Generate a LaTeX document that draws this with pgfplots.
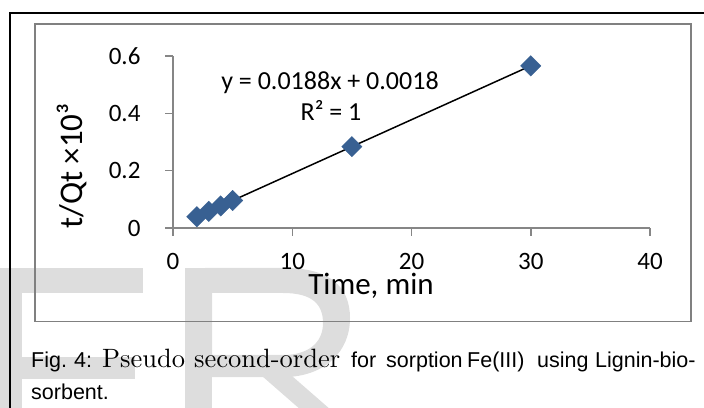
\documentclass[border=0pt]{standalone}
\usepackage{fontspec}
\setmainfont{Liberation Sans}
\newfontfamily\calibri{Carlito}
\newfontfamily\cmr{lmroman10-regular.otf}
\usepackage{pgfplots}
\pgfplotsset{compat=1.18}
\definecolor{ptblue}{RGB}{56,96,146}
\definecolor{axgray}{RGB}{134,134,134}
\definecolor{framegray}{RGB}{128,128,128}
\definecolor{wmgray}{RGB}{221,221,221}

\begin{document}
\begin{tikzpicture}[x=1pt,y=1pt]
\path[use as bounding box] (0,0) rectangle (704,407);
% watermark letters (E, R) behind everything
\begin{scope}
\clip (0,0) rectangle (704,407);
\fill[wmgray] (-5,139) rectangle (143,114);
\fill[wmgray] (-5,139) rectangle (22,-10);
\fill[wmgray] (-5,50) rectangle (135,28);
\fill[wmgray] (185,139) rectangle (212,-10);
\fill[wmgray, even odd rule]
    (205,139) -- (285,139) .. controls (330,139) and (350,120) .. (350,89)
    .. controls (350,55) and (325,32) .. (288,30) -- (205,30) -- cycle
    (212,114) -- (283,114) .. controls (312,114) and (323,103) .. (323,84)
    .. controls (323,64) and (308,52) .. (283,52) -- (212,52) -- cycle;
\fill[wmgray] (262,31) -- (292,31) -- (339,-10) -- (309,-10) -- cycle;
\end{scope}
\draw[line width=2pt] (10,-5) -- (10,394.3) -- (710,394.3);
\draw[framegray, line width=1.5pt] (35,85.5) rectangle (691,383);

\begin{axis}[
    at={(173pt,179pt)}, anchor=south west,
    scale only axis, width=477pt, height=172pt,
    xmin=0, xmax=40, ymin=0, ymax=0.6,
    xtick={0,10,20,30,40}, ytick={0,0.2,0.4,0.6},
    axis x line=bottom, axis y line=left,
    axis line style={-, axgray, line width=1.5pt},
    tick style={axgray, line width=1.5pt},
    tick align=outside, major tick length=8pt,
    ticklabel style={font=\calibri\fontsize{25}{30}\selectfont, text=black},
    xticklabel style={yshift=-14pt},
    yticklabel style={xshift=-21pt},
    /pgf/number format/assume math mode=true,
    clip=false]
\addplot[only marks, mark=square*, mark size=7.2pt,
    mark options={rotate=45, fill=ptblue, draw=ptblue}] coordinates {
    (2,0.0394) (3,0.0582) (4,0.0770) (5,0.0958) (15,0.2838) (30,0.5658)
};
\addplot[black, line width=1.5pt] coordinates {(2,0.0394) (30,0.5658)};
\end{axis}

\node[anchor=base, font=\calibri\fontsize{26}{30}\selectfont] at (330,317) {y = 0.0188x + 0.0018};
\node[anchor=base, font=\calibri\fontsize{26}{30}\selectfont] at (331,286) {R² = 1};
\node[anchor=base, font=\calibri\fontsize{31}{36}\selectfont] at (371,112) {Time, min};
\node[anchor=base, rotate=90, font=\calibri\fontsize{33}{38}\selectfont] at (82,241) {t/Qt ×10³};

% caption, word by word as justified in the source
\begin{scope}[every node/.style={anchor=base west, inner sep=0pt, font=\fontsize{21.5}{25}\selectfont}]
\node at (31,39) {Fig.};
\node at (74,39) {4:};
\node[font=\cmr\fontsize{26.5}{30}\selectfont] at (102,39) {Pseudo};
\node[font=\cmr\fontsize{26.5}{30}\selectfont] at (194,39) {second-order};
\node at (351,39) {for};
\node at (386,39) {sorption};
\node at (467,39) {Fe(III)};
\node at (537,39) {using};
\node at (595,39) {Lignin-bio-};
\node at (31,8) {sorbent.};
\end{scope}
\end{tikzpicture}
\end{document}
